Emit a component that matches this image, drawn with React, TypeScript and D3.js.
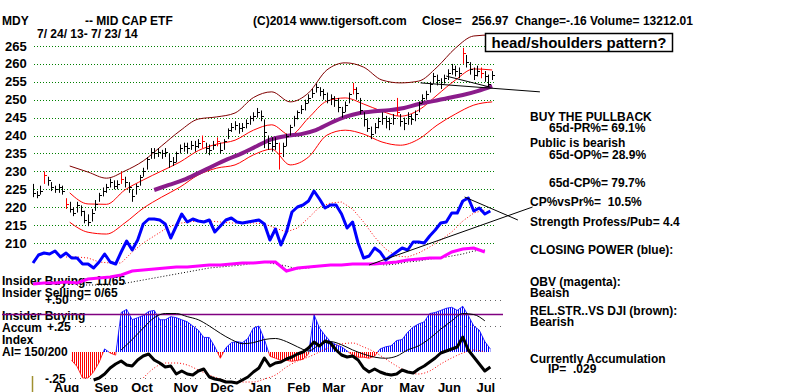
import { useEffect, useRef } from "react"
import * as d3 from "d3"

// price bars, one every 2nd trading day starting 7/24/13 (day 0)
const priceClose = [
  224, 223.5, 224.5, 229, 227.5, 225.5, 225, 225.5, 224.5, 221,
  219.5, 218.5, 220.5, 219, 216.5, 216, 218.5, 221, 223.5, 224.5,
  225.5, 227, 226, 226.5, 228, 227, 225.5, 223, 226, 228.5,
  230, 233.5, 235.5, 235, 235.5, 235, 235.5, 233, 232.5, 235,
  236.5, 237, 236.5, 237.5, 237, 238, 238.5, 236.5, 236, 237.5,
  238.5, 236, 238.5, 241.5, 242.5, 243, 242, 242.5, 243.5, 245,
  245.5, 246.5, 245.5, 241, 238, 237, 238, 235, 237, 240,
  242.5, 245, 246.5, 247.5, 249, 250.5, 252, 253.5, 252.5, 251.5,
  250, 250.5, 250, 248, 246.5, 248.5, 251.5, 253, 252, 247,
  244.5, 242, 240.5, 242.5, 244, 245, 244, 243.5, 245, 246.5,
  244, 243.5, 245.5, 244.5, 246, 249, 250.5, 251.5, 254.5, 256.5,
  255.5, 254.5, 256, 257.5, 258.5, 258, 257.5, 263, 260.5, 258.5,
  257, 258, 257.5, 256.5, 254.5, 256.97,
]
const priceHigh = [
  226.5, 224.5, 226, 230, 228.5, 227, 226, 226.5, 226, 222.5,
  221.5, 220, 221.5, 220.5, 219, 218, 219.5, 222, 224, 225.5,
  226.5, 228, 227.5, 227.5, 230, 228.5, 227, 225, 226.5, 229,
  231, 234, 236.5, 236.5, 236.5, 236, 236.5, 235, 234, 235.5,
  237.5, 238, 238, 238.5, 238.5, 239, 240, 238, 237.5, 238.5,
  239.5, 238, 239, 242, 243.5, 244, 243.5, 243.5, 244.5, 245.5,
  246.5, 247.7, 247, 244.5, 240, 239.5, 239.5, 238, 238, 240.5,
  243, 245.5, 247, 248.5, 250, 251.5, 253, 254.5, 253.5, 253,
  252, 251.5, 251, 250.5, 248, 249.5, 252, 254.7, 253.5, 250.5,
  246.5, 244.5, 242.5, 243.5, 245, 246.5, 245.5, 245, 246, 250.5,
  246, 245, 246.5, 246, 247, 249.5, 251.5, 252.5, 255, 257.5,
  257, 256, 257, 258.5, 260, 259.5, 259, 264.5, 262.5, 260.5,
  259, 259.5, 259, 258, 257, 258,
]
const priceLow = [
  222.8, 222.5, 223.5, 226.5, 226, 224.5, 224, 224, 223.5, 219.5,
  218.5, 217.5, 218.5, 217.5, 215.5, 214.7, 216, 219, 221.5, 223,
  224, 225.5, 225, 225, 226.5, 225.5, 224, 221.5, 223.5, 226,
  228.5, 230.5, 233.5, 233.5, 234, 233.5, 234, 231, 231.5, 232.5,
  235, 235.5, 235, 236, 235.5, 236.5, 236.5, 235, 234.5, 236,
  237, 235, 236, 239, 241, 241.5, 240.5, 241, 242, 243,
  244, 245, 244, 236.5, 236, 235.5, 236, 230.5, 234, 237,
  240, 242.5, 244.5, 246, 247, 249, 250.5, 252, 251, 250,
  249, 248.5, 248, 246.5, 245, 246.5, 249, 251.5, 250, 246,
  242.5, 241, 239, 240.5, 242, 243, 242, 241.5, 243, 245.5,
  242.5, 241.5, 243, 243, 244, 246.5, 249, 250, 252, 254.5,
  254, 253, 254.5, 255.5, 257, 256.5, 256, 260, 259, 257,
  255.5, 256.5, 256, 255, 253.5, 255.5,
]
const redBars = [3, 9, 24, 46, 50, 67, 87, 99, 117, 122]

// bollinger bands, every 10th day from day 20
const bandUpper = [231.5, 229.8, 228.1, 230.1, 232.9, 237.1, 241.3, 244.6, 245.2, 246.3, 250.6, 252.2, 249.4, 251.9, 258.3, 260.3, 259.1, 255.5, 254.7, 255.2, 259.1, 264.4, 267.8, 268.1]
const bandMid = [224, 220.9, 220.8, 224.8, 227.6, 230.1, 232.6, 235.8, 237.6, 238.7, 241.5, 243, 240.1, 244.9, 249.6, 250.5, 248.8, 246.8, 245.4, 247.1, 251.3, 255.5, 258.6, 258.3]
const bandLower = [215.8, 213, 212.5, 215.6, 219.7, 222.8, 225.6, 229, 230.9, 231.8, 234.6, 236.2, 231.8, 234, 240.1, 241.5, 240.4, 238.2, 237.3, 239, 242.9, 246, 248.5, 249.4]
// long moving average (purple), every 8th day from day 66
const longMA = [224.8, 226.2, 227.6, 229.5, 231.5, 233.4, 235.1, 237.1, 239, 239.9, 240.4, 241.5, 243.5, 245.2, 246.3, 246.8, 247.1, 247.7, 248.8, 249.6, 250.5, 251.3, 252.4, 253.8]

// closing power (blue), every 3rd day
const closingPower = [
  27, 35, 37, 36, 39, 33, 37, 32, 32, 26,
  26, 22, 28, 36, 28, 26, 38, 49, 40, 50,
  66, 71, 71, 70, 66, 52, 64, 76, 68, 71,
  69, 68, 70, 58, 64, 70, 72, 68, 67, 68,
  69, 70, 66, 50, 61, 45, 58, 78, 83, 85,
  89, 99, 91, 82, 85, 85, 76, 62, 68, 47,
  32, 34, 42, 38, 30, 34, 38, 42, 40, 48,
  48, 47, 54, 60, 67, 68, 77, 77, 89, 92,
  79, 82, 76, 79,
]
// every 6th day
const closingPowerMA = [null, null, null, 33, 33, 32, 28, 27, 27, 38, 47, 54, 61, 66, 68, 69, 69, 68, 67, 67, 67, 66, 62, 58, 62, 72, 83, 87, 88, 81, 68, 53, 41, 34, 33, 37, 43, 50, 58, 69, 77, 80]
const obv = [6, 7, 7, 8, 7, 11, 12, 13, 15, 19, 20, 21, 22, 23, 23, 24, 25, 25, 26, 27, 27, 28, 28, 19, 22, 23, 24, 25, 25, 26, 26, 26, 27, 28, 30, 31, 32, 32, 38, 41, 42, 38]
const obvMA = [null, null, null, null, 5, 5, 5, 5, 6, 8, 10, 12, 14, 16, 18, 20, 22, 23, 24, 25, 27, 28, 26, 24, 21, 22, 24, 25, 25, 26, 26, 26, 25, 26, 28, 29, 31, 32, 34, 36, 39, 40]

// accumulation index, every 3rd day
const accum = [
  null, null, null, null, null, null, null, -0.08, -0.14, -0.25,
  -0.25, -0.19, -0.1, 0.03, -0.01, -0.03, 0.38, 0.41, 0.31, 0.33,
  0.35, 0.39, 0.4, 0.31, 0.31, 0.34, 0.33, 0.31, 0.29, 0.25,
  0.21, 0.14, 0.14, 0.05, -0.06, 0.04, 0.09, 0.1, 0.09, 0.13,
  0.23, 0.25, 0.12, -0.04, -0.06, -0.08, -0.08, -0.09, -0.08, -0.07,
  -0.02, 0.36, 0.23, 0.16, 0.1, 0.07, 0.05, 0.01, -0.03, -0.05,
  -0.05, -0.06, -0.04, 0.03, 0.05, 0.06, 0.11, 0.12, 0.19, 0.24,
  0.27, 0.29, 0.37, 0.38, 0.4, 0.42, 0.43, 0.4, 0.44, 0.35,
  0.25, 0.21, 0.1, 0.029,
]
// every 6th day
const accumMA = [null, null, null, null, null, null, null, null, 0.02, 0.12, 0.23, 0.33, 0.37, 0.37, 0.34, 0.31, 0.25, 0.18, 0.12, 0.08, 0.09, 0.12, 0.13, 0.1, 0.05, 0.01, 0.07, 0.1, 0.07, 0.02, -0.02, -0.05, -0.06, -0.04, 0.02, 0.06, 0.13, 0.22, 0.3, 0.37, 0.36, 0.3]

// relative strength vs DJI, every 3rd day
const relStr = [
  null, null, null, null, null, null, null, null, null, null, null,
  10, 12, 16, 22, 26, 29, 25, 24, 30, 34,
  36, 30, 27, 23, 24, 16, 19, 16, 15, 19,
  21, 13, 11, 10, 8, 8, 7, 10, 13, 18,
  22, 32, 24, 27, 28, 31, 33, 36, 38, 42,
  48, 44, 49, 47, 40, 35, 33, 34, 30, 22,
  18, 21, 18, 16, 15, 16, 20, 18, 17, 21,
  24, 28, 32, 37, 39, 41, 43, 53, 40, 33,
  26, 19, 23,
]
// every 6th day
const relStrMA = [null, null, null, null, null, null, null, null, null, null, 12, 22, 27, 27, 25, 20, 15, 11, 8, 8, 8, 11, 15, 23, 29, 33, 38, 43, 46, 47, 43, 38, 31, 24, 18, 16, 19, 26, 32, 37, 40, 38]

const monthLabels = ["Aug", "Sep", "Oct", "Nov", "Dec", "Jan", "Feb", "Mar", "Apr", "May", "Jun", "Jul"]
const monthStartDay = [6, 28, 48, 71, 91, 112, 133, 152, 173, 194, 215, 236]
const priceTicks = [265, 260, 255, 250, 245, 240, 235, 230, 225, 220, 215, 210]

// trend lines as [day, value] pairs
const priceTrends = [[[211, 254.7], [276, 252.2]], [[225, 256.6], [249, 253.5]]]
const cpTrends = [[[183, 25], [272, 83]], [[235, 93], [264, 70]]]

const leftNotes: [string, number, number][] = [
  ["Insider Buying= 11/65", 2, 285],
  ["Insider Selling= 0/65", 2, 297],
  ["+.50", 45, 304],
  ["Insider Buying", 2, 320],
  ["Accum", 2, 332],
  ["+.25", 47, 331],
  ["Index", 2, 344],
  ["AI= 150/200", 2, 356],
  ["-.25", 45, 383],
]
const rightNotes: [string, number, number][] = [
  ["BUY THE PULLBACK", 530, 121],
  ["65d-PR%= 69.1%", 549, 132],
  ["Public is bearish", 530, 147],
  ["65d-OP%= 28.9%", 549, 159],
  ["65d-CP%= 79.7%", 549, 187],
  ["CP%vsPr%=  10.5%", 530, 206],
  ["Strength Profess/Pub= 4.4", 530, 226],
  ["CLOSING POWER (blue):", 530, 254],
  ["OBV (magenta):", 530, 286],
  ["Beaish", 530, 297],
  ["REL.STR..VS DJI (brown):", 530, 315],
  ["Bearish", 530, 326],
  ["Currently Accumulation", 530, 363],
  ["IP=  .029", 548, 373],
]
const headerNotes: [string, number, number][] = [
  ["MDY", 2, 25],
  ["-- MID CAP ETF", 85, 25],
  ["(C)2014 www.tigersoft.com", 253, 25],
  ["Close=   256.97  Change=-.16 Volume= 13212.01", 422, 25],
  ["7/ 24/ 13- 7/ 23/ 14", 37, 38],
]

const FONT = "'Liberation Sans', Arial, sans-serif"

export default function App() {
  const svgRef = useRef<SVGSVGElement>(null)

  useEffect(() => {
    if (!svgRef.current) return
    const svg = d3.select(svgRef.current)
    svg.selectAll("*").remove()

    const x = d3.scaleLinear().domain([0, 251]).range([33, 494])
    const yP = d3.scaleLinear().domain([210, 265]).range([243, 46])
    const yM = d3.scaleLinear().domain([0, 100]).range([290, 190])
    const yA = d3.scaleLinear().domain([-0.25, 0.5]).range([378, 300])
    const yR = d3.scaleLinear().domain([0, 100]).range([390, 290])

    const series = (vals: (number | null)[], start: number, step: number, y: d3.ScaleLinear<number, number>, curve: d3.CurveFactory = d3.curveLinear) =>
      d3.line<number | null>()
        .defined((v) => v != null)
        .x((_, i) => x(start + i * step))
        .y((v) => y(v as number))
        .curve(curve)(vals) || ""

    const defs = svg.append("defs")
    const stripes = (id: string, color: string) => {
      const p = defs.append("pattern").attr("id", id).attr("width", 2).attr("height", 4).attr("patternUnits", "userSpaceOnUse")
      p.append("rect").attr("x", 0).attr("y", 0).attr("width", 1).attr("height", 4).attr("fill", color)
    }
    stripes("blueStripes", "#0000ff")
    stripes("redStripes", "#ff0000")
    defs.append("clipPath").attr("id", "posClip").append("rect").attr("x", 0).attr("y", 0).attr("width", 800).attr("height", yA(0))
    defs.append("clipPath").attr("id", "negClip").append("rect").attr("x", 0).attr("y", yA(0)).attr("width", 800).attr("height", 100)

    svg.append("rect").attr("width", 800).attr("height", 392).attr("fill", "#fff")

    const g = svg.append("g")

    // text first, lines are drawn over it
    const txt = g.append("g").attr("font-family", FONT).attr("font-weight", "bold").attr("font-size", 12).attr("fill", "#000")
    ;[...headerNotes, ...leftNotes, ...rightNotes].forEach(([t, tx, ty]) => {
      txt.append("text").attr("x", tx).attr("y", ty).style("white-space", "pre").text(t)
    })

    // price grid
    priceTicks.forEach((p) => {
      g.append("line")
        .attr("x1", 34).attr("x2", 495)
        .attr("y1", Math.round(yP(p)) + 0.5).attr("y2", Math.round(yP(p)) + 0.5)
        .attr("stroke", "#008000").attr("stroke-dasharray", "1,2")
      g.append("text")
        .attr("x", 5).attr("y", yP(p) + 4.5)
        .attr("font-family", FONT).attr("font-weight", "bold").attr("font-size", 13)
        .text(p)
    })

    // bands and moving averages
    g.append("path").attr("d", series(bandUpper, 20, 10, yP, d3.curveMonotoneX)).attr("fill", "none").attr("stroke", "#800000").attr("stroke-width", 1)
    g.append("path").attr("d", series(bandMid, 20, 10, yP, d3.curveMonotoneX)).attr("fill", "none").attr("stroke", "#ff0000").attr("stroke-width", 1)
    g.append("path").attr("d", series(bandLower, 20, 10, yP, d3.curveMonotoneX)).attr("fill", "none").attr("stroke", "#ff0000").attr("stroke-width", 1)
    g.append("path").attr("d", series(longMA, 66, 8, yP, d3.curveMonotoneX)).attr("fill", "none").attr("stroke", "#8b1c8b").attr("stroke-width", 4)

    // price bars
    priceClose.forEach((c, i) => {
      const px = Math.round(x(i * 2)) + 0.5
      const col = redBars.includes(i) ? "#ff0000" : "#000"
      g.append("line").attr("x1", px).attr("x2", px).attr("y1", yP(priceHigh[i])).attr("y2", yP(priceLow[i])).attr("stroke", col)
      g.append("line").attr("x1", px).attr("x2", px + 2.5).attr("y1", Math.round(yP(c)) + 0.5).attr("y2", Math.round(yP(c)) + 0.5).attr("stroke", col)
    })

    priceTrends.forEach(([a, b]) => {
      g.append("line").attr("x1", x(a[0])).attr("y1", yP(a[1])).attr("x2", x(b[0])).attr("y2", yP(b[1])).attr("stroke", "#000")
    })

    // annotation box
    g.append("rect").attr("x", 485.5).attr("y", 33.5).attr("width", 187).attr("height", 18).attr("fill", "#fff").attr("stroke", "#000").attr("stroke-width", 1.5)
    g.append("text").attr("x", 579).attr("y", 48).attr("text-anchor", "middle")
      .attr("font-family", FONT).attr("font-weight", "bold").attr("font-size", 15).text("head/shoulders pattern?")

    // closing power / OBV panel
    g.append("path").attr("d", series(closingPowerMA, 0, 6, yM)).attr("fill", "none").attr("stroke", "#ff0000").attr("stroke-dasharray", "1,2")
    g.append("path").attr("d", series(obvMA, 0, 6, yM)).attr("fill", "none").attr("stroke", "#000").attr("stroke-dasharray", "1,2")
    g.append("path").attr("d", series(obv, 0, 6, yM)).attr("fill", "none").attr("stroke", "#ff00ff").attr("stroke-width", 3)
    g.append("path").attr("d", series(closingPower, 0, 3, yM)).attr("fill", "none").attr("stroke", "#0000ff").attr("stroke-width", 3).attr("stroke-linejoin", "round")
    cpTrends.forEach(([a, b]) => {
      g.append("line").attr("x1", x(a[0])).attr("y1", yM(a[1])).attr("x2", x(b[0])).attr("y2", yM(b[1])).attr("stroke", "#000")
    })

    // accumulation panel
    const accArea = d3.area<number | null>()
      .defined((v) => v != null)
      .x((_, i) => x(i * 3))
      .y0(yA(0))
      .y1((v) => yA(v as number))
    g.append("path").attr("d", accArea(accum) || "").attr("fill", "url(#blueStripes)").attr("clip-path", "url(#posClip)")
    g.append("path").attr("d", accArea(accum) || "").attr("fill", "url(#redStripes)").attr("clip-path", "url(#negClip)")
    g.append("path").attr("d", series(accum, 0, 3, yA)).attr("fill", "none").attr("stroke", "#0000ff").attr("stroke-width", 0.8).attr("clip-path", "url(#posClip)")
    g.append("path").attr("d", series(accum, 0, 3, yA)).attr("fill", "none").attr("stroke", "#ff0000").attr("stroke-width", 0.8).attr("clip-path", "url(#negClip)")

    ;[0.5, 0.25, -0.25].forEach((v) => {
      g.append("line").attr("x1", 70).attr("x2", 502)
        .attr("y1", Math.round(yA(v)) + 0.5).attr("y2", Math.round(yA(v)) + 0.5)
        .attr("stroke", "#666").attr("stroke-dasharray", "1,4")
    })
    g.append("line").attr("x1", 2).attr("x2", 503).attr("y1", yA(0.36)).attr("y2", yA(0.36)).attr("stroke", "#800080").attr("stroke-width", 1.5)

    g.append("path").attr("d", series(accumMA, 0, 6, yA, d3.curveMonotoneX)).attr("fill", "none").attr("stroke", "#000").attr("stroke-width", 1)
    g.append("path").attr("d", series(relStrMA, 0, 6, yR, d3.curveMonotoneX)).attr("fill", "none").attr("stroke", "#ff0000").attr("stroke-dasharray", "1,2")
    g.append("path").attr("d", series(relStr, 0, 3, yR)).attr("fill", "none").attr("stroke", "#000").attr("stroke-width", 3).attr("stroke-linejoin", "round")

    g.append("line").attr("x1", 32.5).attr("x2", 32.5).attr("y1", 376).attr("y2", 392).attr("stroke", "#a09030").attr("stroke-width", 1.5)

    // month labels
    monthLabels.forEach((m, i) => {
      g.append("text")
        .attr("x", x(monthStartDay[i]) + 10).attr("y", 392)
        .attr("font-family", FONT).attr("font-weight", "bold").attr("font-size", 13)
        .text(m)
    })
  }, [])

  return (
    <div style={{ position: "fixed", left: 0, top: 0, width: 800, height: 392, background: "#fff" }}>
      <svg ref={svgRef} width={800} height={392} style={{ display: "block" }} />
    </div>
  )
}
